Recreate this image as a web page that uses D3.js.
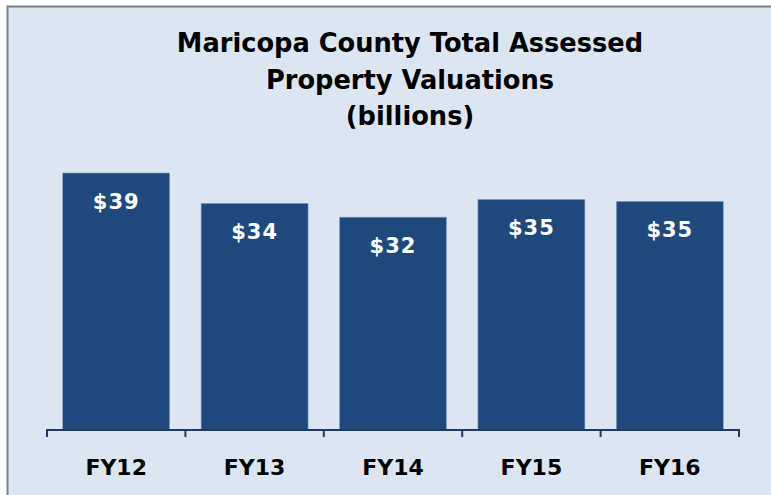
<!DOCTYPE html>
<html>
<head>
<meta charset="utf-8">
<script src="https://cdn.jsdelivr.net/npm/d3@7"></script>
<style>
  html, body { margin: 0; padding: 0; background: #fff; }
  svg { display: block; font-family: "DejaVu Sans", Verdana, sans-serif; }
</style>
</head>
<body>
<div id="chart"></div>
<script>
// chart data
var years = ["FY12", "FY13", "FY14", "FY15", "FY16"];
var valuations = [39.0, 34.4, 32.3, 35.0, 34.7];
var valueLabels = ["$39", "$34", "$32", "$35", "$35"];
var titleLines = ["Maricopa County Total Assessed", "Property Valuations", "(billions)"];

(() => {
  var W = 771, H = 495;

  var svg = d3.select('#chart')
    .append('svg')
    .attr('width', W)
    .attr('height', H);

  // frame (right and bottom edges run off the picture)
  svg.append('rect')
    .attr('x', 7.5).attr('y', 6.5)
    .attr('width', W + 20).attr('height', H)
    .attr('fill', '#dce6f2')
    .attr('stroke', '#76808e')
    .attr('stroke-width', 2);

  // title
  svg.append('g').selectAll('text')
    .data(titleLines)
    .enter().append('text')
    .attr('x', 410)
    .attr('y', (d, i) => [52, 89, 125][i])
    .attr('text-anchor', 'middle')
    .attr('font-weight', 'bold')
    .attr('font-size', '25.7px')
    .attr('fill', '#000')
    .text(d => d);

  var baseY = 430;
  var x = d3.scaleBand()
    .domain(years)
    .range([47, 739])
    .paddingInner(0.227)
    .paddingOuter(0.1135);

  var y = d3.scaleLinear()
    .domain([0, 39])
    .range([baseY, 173]);

  var data = years.map((d, i) => ({ year: d, value: valuations[i], label: valueLabels[i] }));

  svg.selectAll('rect.bar')
    .data(data)
    .enter().append('rect')
    .attr('class', 'bar')
    .attr('x', d => x(d.year))
    .attr('y', d => y(d.value))
    .attr('width', x.bandwidth())
    .attr('height', d => baseY - y(d.value))
    .attr('fill', '#1f497d')
    .attr('stroke', '#8fa6c4')
    .attr('stroke-width', 0.6);

  svg.selectAll('text.val')
    .data(data)
    .enter().append('text')
    .attr('class', 'val')
    .attr('x', d => x(d.year) + x.bandwidth() / 2)
    .attr('y', d => y(d.value) + 36)
    .attr('text-anchor', 'middle')
    .attr('font-weight', 'bold')
    .attr('font-size', '21px')
    .attr('letter-spacing', '1px')
    .attr('fill', '#fff')
    .text(d => d.label);

  // category axis with ticks between bands
  var axisG = svg.append('g').attr('transform', 'translate(0,' + baseY + ')');
  axisG.append('line')
    .attr('x1', 47).attr('x2', 739)
    .attr('stroke', '#1f3864').attr('stroke-width', 2);

  var step = x.step();
  var bounds = d3.range(years.length + 1).map(i => 47 + i * step);
  axisG.selectAll('line.tick')
    .data(bounds)
    .enter().append('line')
    .attr('class', 'tick')
    .attr('x1', d => d).attr('x2', d => d)
    .attr('y1', -1).attr('y2', 7)
    .attr('stroke', '#1f3864').attr('stroke-width', 2);

  axisG.selectAll('text')
    .data(years)
    .enter().append('text')
    .attr('x', d => x(d) + x.bandwidth() / 2)
    .attr('y', 45)
    .attr('text-anchor', 'middle')
    .attr('font-weight', 'bold')
    .attr('font-size', '22px')
    .attr('fill', '#000')
    .text(d => d);
})();
</script>
</body>
</html>
